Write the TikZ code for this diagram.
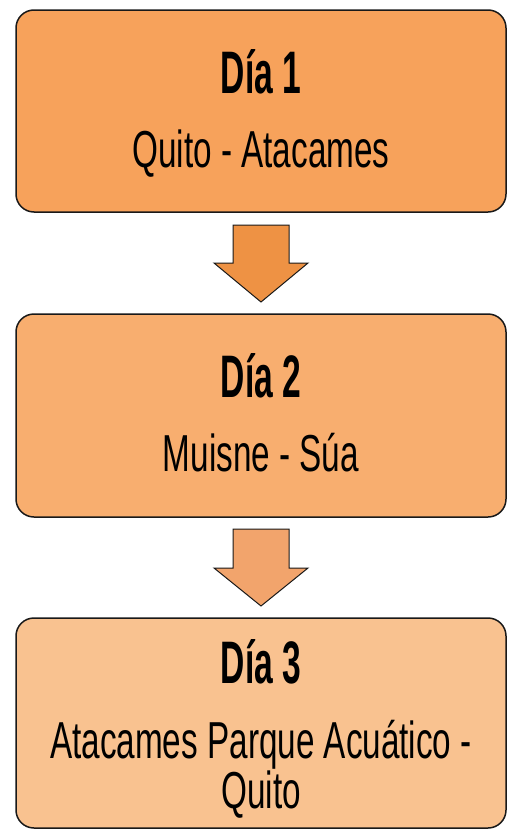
\documentclass[tikz,border=0pt]{standalone}
\usepackage{fontspec}
\setmainfont{Liberation Sans}
\newfontfamily\bodyfont[FakeStretch=0.64]{Liberation Sans}
\newfontfamily\titlefont[FakeStretch=0.56]{Liberation Sans Bold}
\usetikzlibrary{calc}
\definecolor{boxA}{HTML}{F7A25B}
\definecolor{boxB}{HTML}{F8AE6F}
\definecolor{boxC}{HTML}{F9C290}
\definecolor{arrA}{HTML}{EE9244}
\definecolor{arrB}{HTML}{F2A46C}
\tikzset{
  daybox/.style={draw=black!90, line width=1.5pt, rounded corners=18pt,
    minimum width=490pt, inner sep=0pt},
  daytitle/.style={anchor=base, inner sep=0pt, font=\titlefont\fontsize{60}{60}\selectfont},
  daytext/.style={anchor=base, inner sep=0pt, font=\bodyfont\fontsize{52}{52}\selectfont},
  flowarrow/.style={draw=black!90, line width=1pt, line join=miter}
}
\begin{document}
\begin{tikzpicture}[x=1pt, y=-1pt]
\useasboundingbox (0,0) rectangle (513,830);
\node[daybox, fill=boxA, minimum height=202pt] (b1) at (261,111) {};
\node[daybox, fill=boxB, minimum height=203pt] (b2) at (261,415.5) {};
\node[daybox, fill=boxC, minimum height=210pt] (b3) at (261,723) {};

\node[daytitle] (t1) at (261,93) {Día 1};
\node[daytext] (s1) at (261,167) {Quito - Atacames};
\node[daytitle] (t2) at (261,397) {Día 2};
\node[daytext] (s2) at (261,471) {Muisne - Súa};
\node[daytitle] (t3) at (261,683) {Día 3};
\node[daytext] (s3a) at (261,758) {Atacames Parque Acuático -};
\node[daytext] (s3b) at (261,808) {Quito};

\draw[flowarrow, fill=arrA] (233,225) -- (289,225) -- (289,263) -- (308,263)
  -- (261,302) -- (214,263) -- (233,263) -- cycle;
\draw[flowarrow, fill=arrB] (233,529) -- (289,529) -- (289,568) -- (308,568)
  -- (261,606) -- (214,568) -- (233,568) -- cycle;
\end{tikzpicture}
\end{document}
